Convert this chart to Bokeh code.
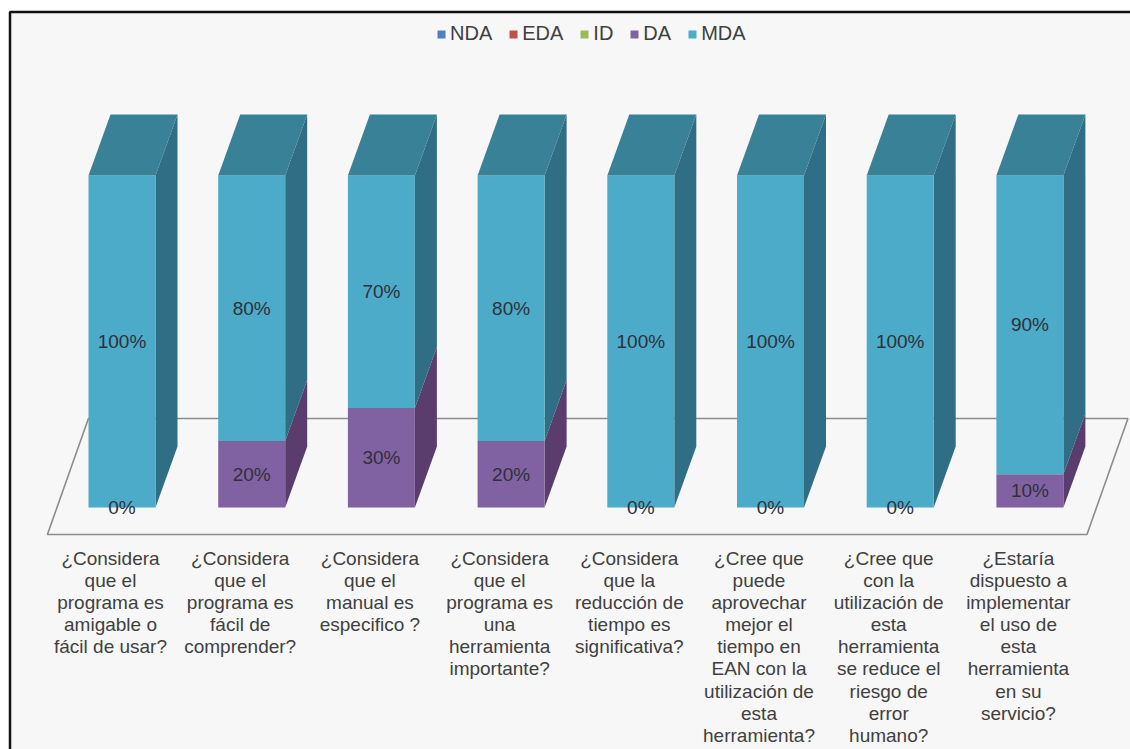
from bokeh.embed import file_html
from bokeh.resources import INLINE
from bokeh.plotting import figure
from bokeh.models import BoxAnnotation, Legend, LegendItem, Range1d
from bokeh.core.properties import value

# Survey answers per question, in percent
questions = [
    "¿Considera\nque el\nprograma es\namigable o\nfácil de usar?",
    "¿Considera\nque el\nprograma es\nfácil de\ncomprender?",
    "¿Considera\nque el\nmanual es\nespecifico ?",
    "¿Considera\nque el\nprograma es\nuna\nherramienta\nimportante?",
    "¿Considera\nque la\nreducción de\ntiempo es\nsignificativa?",
    "¿Cree que\npuede\naprovechar\nmejor el\ntiempo en\nEAN con la\nutilización de\nesta\nherramienta?",
    "¿Cree que\ncon la\nutilización de\nesta\nherramienta\nse reduce el\nriesgo de\nerror\nhumano?",
    "¿Estaría\ndispuesto a\nimplementar\nel uso de\nesta\nherramienta\nen su\nservicio?",
]
series_names = ["NDA", "EDA", "ID", "DA", "MDA"]
nda = [0, 0, 0, 0, 0, 0, 0, 0]
eda = [0, 0, 0, 0, 0, 0, 0, 0]
ind = [0, 0, 0, 0, 0, 0, 0, 0]
da = [0, 20, 30, 20, 0, 0, 0, 10]
mda = [100, 80, 70, 80, 100, 100, 100, 90]
series_values = [nda, eda, ind, da, mda]

front_colors = ["#4f81bd", "#c0504d", "#9bbb59", "#8062a2", "#4babc8"]
side_colors = ["#3a5f8c", "#8e3b39", "#728a42", "#5a3d6d", "#2f6e84"]
top_colors = ["#3f6c9e", "#a04341", "#809c4a", "#664a7c", "#388197"]

# Page scale: pixels per category and per percentage point
W, H = 1130, 749
PX_X, PX_Y = 129.7, 3.32
X0_PX, Y0_PX = 121.5, 507.0
BAR = 67 / PX_X
DX, DY = 22 / PX_X, 61 / PX_Y
x_min, x_max = -X0_PX / PX_X, (W - X0_PX) / PX_X
y_min, y_max = (Y0_PX - H) / PX_Y, Y0_PX / PX_Y

p = figure(width=W, height=H, output_backend="svg", toolbar_location=None,
           x_range=Range1d(x_min, x_max), y_range=Range1d(y_min, y_max),
           min_border=0, border_fill_color="white", background_fill_color="white",
           outline_line_color=None)
p.axis.visible = False
p.grid.visible = False

# Chart panel: its right and bottom edges run past the page
p.add_layout(BoxAnnotation(left=9.5, top=H - 11.5, right=W + 20, bottom=-20,
                           left_units="screen", right_units="screen",
                           top_units="screen", bottom_units="screen",
                           fill_color="#f7f7f7", fill_alpha=1,
                           line_color="#111111", line_alpha=1, line_width=2.5,
                           level="underlay"))

# Floor of the 3D chart, running behind the columns
floor_front = -27 / PX_Y
floor_back = floor_front + 116 / PX_Y
fl, fr = -0.575, 7.44
fs = 41 / PX_X
p.patch([fl, fr, fr + fs, fl + fs], [floor_front, floor_front, floor_back, floor_back],
        fill_color="#f7f7f7", line_color="#8c8c8c", line_width=1.6)

idx = list(range(len(questions)))
renderers = {}
bottoms = [0] * len(idx)
for name, vals, fc, sc, tc in zip(series_names, series_values, front_colors, side_colors, top_colors):
    tops = [b + v for b, v in zip(bottoms, vals)]
    # right-hand face of each stacked segment
    side_x = [[i + BAR / 2, i + BAR / 2 + DX, i + BAR / 2 + DX, i + BAR / 2] for i in idx]
    side_y = [[b, b + DY, t + DY, t] for b, t in zip(bottoms, tops)]
    p.patches(side_x, side_y, fill_color=sc, line_color=None)
    renderers[name] = p.vbar(x=idx, bottom=bottoms, top=tops, width=BAR,
                             fill_color=fc, line_color=None)
    if name == series_names[-1]:
        top_x = [[i - BAR / 2, i + BAR / 2, i + BAR / 2 + DX, i - BAR / 2 + DX] for i in idx]
        top_y = [[t, t, t + DY, t + DY] for t in tops]
        p.patches(top_x, top_y, fill_color=tc, line_color=None)
    bottoms = tops

# Percentage labels, centred in the DA and MDA segments
lab_x, lab_y, lab_t = [], [], []
for i in idx:
    lab_x += [i, i]
    lab_y += [da[i] / 2, da[i] + mda[i] / 2]
    lab_t += [f"{da[i]}%", f"{mda[i]}%"]
p.text(x=lab_x, y=lab_y, text=lab_t, text_align="center", text_baseline="middle",
       text_font=value("Liberation Sans"), text_font_size="19px", text_color="#30303c")

# Question labels along the front edge of the floor
p.text(x=[i - 11.5 / PX_X for i in idx], y=[(Y0_PX - 547) / PX_Y] * len(idx), text=questions,
       text_align="center", text_baseline="top", text_line_height=1.056,
       text_font=value("Liberation Sans"), text_font_size="19px", text_color="#404040")

legend = Legend(items=[LegendItem(label=n, renderers=[renderers[n]]) for n in series_names],
                orientation="horizontal", location=(436, H - 45), margin=0, padding=0,
                spacing=16, label_standoff=4, glyph_width=10, glyph_height=10,
                background_fill_alpha=0, border_line_color=None,
                label_text_font="Liberation Sans", label_text_font_size="20px",
                label_text_color="#404040")
p.add_layout(legend, "center")

open("out.html", "w").write(file_html(p, INLINE))
